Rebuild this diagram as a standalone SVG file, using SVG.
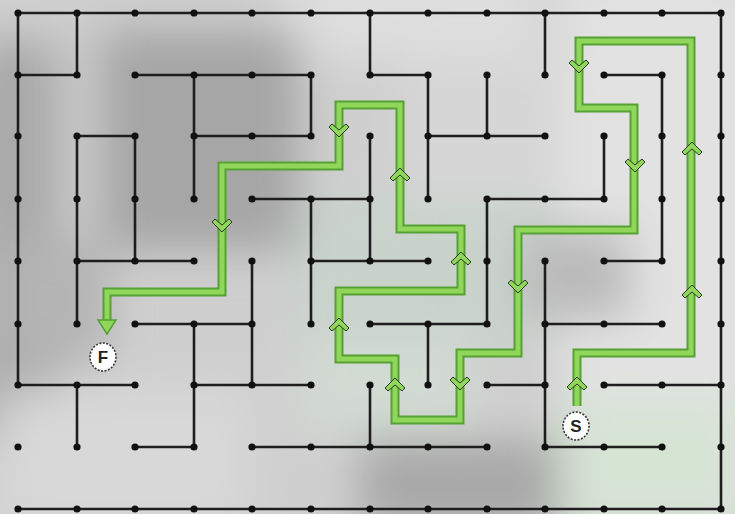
<svg xmlns="http://www.w3.org/2000/svg" width="735" height="514" viewBox="0 0 735 514">
<defs>
<filter id="blur" x="-20%" y="-20%" width="140%" height="140%"><feGaussianBlur stdDeviation="22"/></filter>
<style>
.w{stroke:#1e1e1e;stroke-width:2.6;stroke-linecap:round;fill:none}
.d{fill:#111}
.po{fill:none;stroke:#56a034;stroke-width:9;stroke-linejoin:miter;stroke-linecap:butt}
.pi{fill:none;stroke:#8fd65a;stroke-width:5;stroke-linejoin:miter;stroke-linecap:butt}
.lbl{fill:#fff;stroke:#333;stroke-width:1.6;stroke-dasharray:2 1.5}
.lt{font-family:"Liberation Sans",Arial,sans-serif;font-weight:bold;font-size:17px;fill:#222;text-anchor:middle}
</style>
<g id="ah"><polygon points="0,-3 10,7 7,10 0,4 -7,10 -10,7" fill="#8fd65a" stroke="#2a3a22" stroke-width="1"/></g>
</defs>
<g id="background">
<rect width="735" height="514" fill="#cfcfcf"/>
<g filter="url(#blur)">
<rect x="280" y="-30" width="260" height="90" fill="#dedede"/>
<rect x="400" y="60" width="200" height="150" fill="#d6d6d6"/>
<rect x="560" y="-30" width="200" height="560" fill="#e2e2e2"/>
<rect x="-30" y="40" width="90" height="400" fill="#a9a9a9"/>
<rect x="100" y="30" width="200" height="220" fill="#a6a6a6"/>
<rect x="300" y="200" width="260" height="140" fill="#c9d3cc"/>
<rect x="520" y="230" width="110" height="90" fill="#bababa"/>
<rect x="0" y="390" width="250" height="140" fill="#d8d8d8"/>
<rect x="360" y="440" width="200" height="90" fill="#a8a8a8"/>
<rect x="560" y="400" width="180" height="120" fill="#d6e4d4"/>
<rect x="0" y="240" width="110" height="120" fill="#b4b4b4"/>
<rect x="300" y="340" width="170" height="90" fill="#d2dbd3"/>
</g>
</g>
<g id="maze-walls">
<path class="w" d="M18,13H721 M18,509H721 M18,13V385 M721,13V509
M18,75H77 M135,75H311 M370,75H428 M604,75H662
M77,136H135 M194,136H311 M428,136H545
M252,199H370 M487,199H604
M77,261H194 M311,261H428 M604,261H662
M135,324H252 M370,324H487 M545,324H662
M18,385H135 M194,385H311 M487,385H545 M604,385H721
M135,447H194 M252,447H487 M545,447H662
M77,13V75 M77,136V324 M77,385V447
M135,136V261
M194,75V199 M194,324V447
M252,261V385
M311,75V136 M311,199V324
M370,13V75 M370,136V261 M370,385V447
M428,75V199 M428,324V385
M487,75V136 M487,199V324
M545,13V75 M545,261V447
M604,136V199
M662,75V261"/>
</g>
<g id="grid-dots" class="d">
<circle cx="18" cy="13" r="3.6"/><circle cx="77" cy="13" r="3.6"/><circle cx="135" cy="13" r="3.6"/><circle cx="194" cy="13" r="3.6"/><circle cx="252" cy="13" r="3.6"/><circle cx="311" cy="13" r="3.6"/><circle cx="370" cy="13" r="3.6"/><circle cx="428" cy="13" r="3.6"/><circle cx="487" cy="13" r="3.6"/><circle cx="545" cy="13" r="3.6"/><circle cx="604" cy="13" r="3.6"/><circle cx="662" cy="13" r="3.6"/><circle cx="721" cy="13" r="3.6"/>
<circle cx="18" cy="75" r="3.6"/><circle cx="77" cy="75" r="3.6"/><circle cx="135" cy="75" r="3.6"/><circle cx="194" cy="75" r="3.6"/><circle cx="252" cy="75" r="3.6"/><circle cx="311" cy="75" r="3.6"/><circle cx="370" cy="75" r="3.6"/><circle cx="428" cy="75" r="3.6"/><circle cx="487" cy="75" r="3.6"/><circle cx="545" cy="75" r="3.6"/><circle cx="604" cy="75" r="3.6"/><circle cx="662" cy="75" r="3.6"/><circle cx="721" cy="75" r="3.6"/>
<circle cx="18" cy="136" r="3.6"/><circle cx="77" cy="136" r="3.6"/><circle cx="135" cy="136" r="3.6"/><circle cx="194" cy="136" r="3.6"/><circle cx="252" cy="136" r="3.6"/><circle cx="311" cy="136" r="3.6"/><circle cx="370" cy="136" r="3.6"/><circle cx="428" cy="136" r="3.6"/><circle cx="487" cy="136" r="3.6"/><circle cx="545" cy="136" r="3.6"/><circle cx="604" cy="136" r="3.6"/><circle cx="662" cy="136" r="3.6"/><circle cx="721" cy="136" r="3.6"/>
<circle cx="18" cy="199" r="3.6"/><circle cx="77" cy="199" r="3.6"/><circle cx="135" cy="199" r="3.6"/><circle cx="194" cy="199" r="3.6"/><circle cx="252" cy="199" r="3.6"/><circle cx="311" cy="199" r="3.6"/><circle cx="370" cy="199" r="3.6"/><circle cx="428" cy="199" r="3.6"/><circle cx="487" cy="199" r="3.6"/><circle cx="545" cy="199" r="3.6"/><circle cx="604" cy="199" r="3.6"/><circle cx="662" cy="199" r="3.6"/><circle cx="721" cy="199" r="3.6"/>
<circle cx="18" cy="261" r="3.6"/><circle cx="77" cy="261" r="3.6"/><circle cx="135" cy="261" r="3.6"/><circle cx="194" cy="261" r="3.6"/><circle cx="252" cy="261" r="3.6"/><circle cx="311" cy="261" r="3.6"/><circle cx="370" cy="261" r="3.6"/><circle cx="428" cy="261" r="3.6"/><circle cx="487" cy="261" r="3.6"/><circle cx="545" cy="261" r="3.6"/><circle cx="604" cy="261" r="3.6"/><circle cx="662" cy="261" r="3.6"/><circle cx="721" cy="261" r="3.6"/>
<circle cx="18" cy="324" r="3.6"/><circle cx="77" cy="324" r="3.6"/><circle cx="135" cy="324" r="3.6"/><circle cx="194" cy="324" r="3.6"/><circle cx="252" cy="324" r="3.6"/><circle cx="311" cy="324" r="3.6"/><circle cx="370" cy="324" r="3.6"/><circle cx="428" cy="324" r="3.6"/><circle cx="487" cy="324" r="3.6"/><circle cx="545" cy="324" r="3.6"/><circle cx="604" cy="324" r="3.6"/><circle cx="662" cy="324" r="3.6"/><circle cx="721" cy="324" r="3.6"/>
<circle cx="18" cy="385" r="3.6"/><circle cx="77" cy="385" r="3.6"/><circle cx="135" cy="385" r="3.6"/><circle cx="194" cy="385" r="3.6"/><circle cx="252" cy="385" r="3.6"/><circle cx="311" cy="385" r="3.6"/><circle cx="370" cy="385" r="3.6"/><circle cx="428" cy="385" r="3.6"/><circle cx="487" cy="385" r="3.6"/><circle cx="545" cy="385" r="3.6"/><circle cx="604" cy="385" r="3.6"/><circle cx="662" cy="385" r="3.6"/><circle cx="721" cy="385" r="3.6"/>
<circle cx="18" cy="447" r="3.6"/><circle cx="77" cy="447" r="3.6"/><circle cx="135" cy="447" r="3.6"/><circle cx="194" cy="447" r="3.6"/><circle cx="252" cy="447" r="3.6"/><circle cx="311" cy="447" r="3.6"/><circle cx="370" cy="447" r="3.6"/><circle cx="428" cy="447" r="3.6"/><circle cx="487" cy="447" r="3.6"/><circle cx="545" cy="447" r="3.6"/><circle cx="604" cy="447" r="3.6"/><circle cx="662" cy="447" r="3.6"/><circle cx="721" cy="447" r="3.6"/>
<circle cx="18" cy="509" r="3.6"/><circle cx="77" cy="509" r="3.6"/><circle cx="135" cy="509" r="3.6"/><circle cx="194" cy="509" r="3.6"/><circle cx="252" cy="509" r="3.6"/><circle cx="311" cy="509" r="3.6"/><circle cx="370" cy="509" r="3.6"/><circle cx="428" cy="509" r="3.6"/><circle cx="487" cy="509" r="3.6"/><circle cx="545" cy="509" r="3.6"/><circle cx="604" cy="509" r="3.6"/><circle cx="662" cy="509" r="3.6"/><circle cx="721" cy="509" r="3.6"/>
</g>
<g id="connectors">
<path class="po" d="M577,406V353H691V41H579V108H634V230H518V353H460V420H395V359H339V291H461V229H400V105H339V166H222V292H107V322"/>
<path class="pi" d="M577,406V353H691V41H579V108H634V230H518V353H460V420H395V359H339V291H461V229H400V105H339V166H222V292H107V322"/>
<polygon points="98,320 116,320 107,334" fill="#8fd65a" stroke="#56a034" stroke-width="1.5"/>
<use href="#ah" transform="translate(577,380)"/>
<use href="#ah" transform="translate(692,288)"/>
<use href="#ah" transform="translate(692,145)"/>
<use href="#ah" transform="translate(579,70) rotate(180)"/>
<use href="#ah" transform="translate(635,169) rotate(180)"/>
<use href="#ah" transform="translate(518,290) rotate(180)"/>
<use href="#ah" transform="translate(460,387) rotate(180)"/>
<use href="#ah" transform="translate(395,381)"/>
<use href="#ah" transform="translate(339,321)"/>
<use href="#ah" transform="translate(461,255)"/>
<use href="#ah" transform="translate(400,171)"/>
<use href="#ah" transform="translate(339,134) rotate(180)"/>
<use href="#ah" transform="translate(222,229) rotate(180)"/>
</g>
<g id="finish">
<ellipse class="lbl" cx="103" cy="357" rx="13" ry="14"/>
<text class="lt" x="103" y="363">F</text>
</g>
<g id="start">
<ellipse class="lbl" cx="576" cy="426" rx="13" ry="14"/>
<text class="lt" x="576" y="432">S</text>
</g>
</svg>
